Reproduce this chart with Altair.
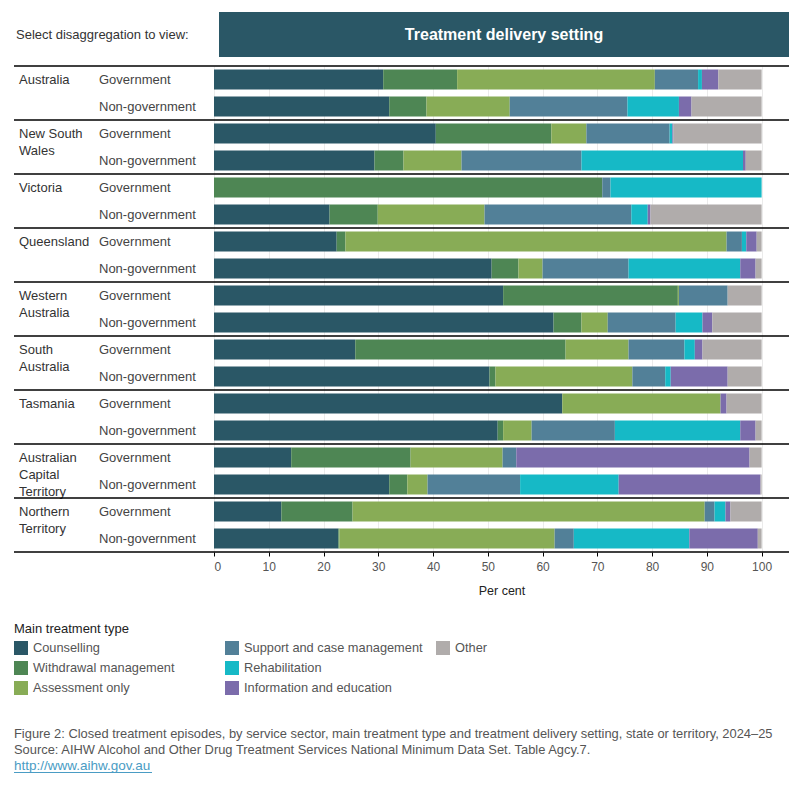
import altair as alt
import pandas as pd

# ---- categories -------------------------------------------------------------
states = [
    "Australia", "New South Wales", "Victoria", "Queensland", "Western Australia",
    "South Australia", "Tasmania", "Australian Capital Territory", "Northern Territory",
]
state_labels = [
    "Australia", "New South\nWales", "Victoria", "Queensland", "Western\nAustralia",
    "South\nAustralia", "Tasmania", "Australian\nCapital\nTerritory", "Northern\nTerritory",
]
sectors = ["Government", "Non-government"]
types = [
    "Counselling", "Withdrawal management", "Assessment only",
    "Support and case management", "Rehabilitation", "Information and education", "Other",
]
type_colors = ["#2a5766", "#4e8654", "#88ac56", "#528098", "#16b9c6", "#7b6cab", "#b0acab"]

# ---- per cent of closed episodes; rows: each state's Government then Non-government
counselling = [30.9, 32.0, 40.5, 29.3, 0.0, 21.1, 22.4, 50.7, 52.8,
               62.0, 25.8, 50.3, 63.6, 51.8, 14.1, 32.0, 12.3, 22.7]
withdrawal = [13.5, 6.8, 21.1, 5.3, 70.9, 8.8, 1.6, 4.9, 31.9,
              5.1, 38.4, 1.1, 0.0, 1.0, 21.8, 3.3, 13.0, 0.2]
assessment = [36.1, 15.2, 6.4, 10.6, 0.0, 19.5, 69.6, 4.4, 0.2,
              4.8, 11.5, 25.0, 28.9, 5.2, 16.8, 3.7, 64.3, 39.3]
support = [7.9, 21.5, 15.2, 21.9, 1.5, 26.8, 2.8, 15.7, 8.9,
           12.4, 10.2, 6.0, 0.0, 15.2, 2.5, 16.9, 1.8, 3.5]
rehabilitation = [0.7, 9.4, 0.5, 29.5, 27.6, 3.0, 0.8, 20.4, 0.0,
                  4.9, 1.9, 1.0, 0.0, 22.9, 0.0, 18.0, 2.0, 21.1]
information = [3.0, 2.3, 0.2, 0.5, 0.0, 0.5, 1.9, 2.8, 0.0,
               1.8, 1.4, 10.4, 1.1, 2.8, 42.6, 25.9, 0.9, 12.5]
other = [7.9, 12.8, 16.1, 2.9, 0.0, 20.3, 0.9, 1.1, 6.2,
         9.0, 10.8, 6.2, 6.4, 1.1, 2.2, 0.2, 5.7, 0.7]
series = [counselling, withdrawal, assessment, support, rehabilitation, information, other]

x_ticks = list(range(0, 101, 10))

header_text = "Treatment delivery setting"
selector_text = "Select disaggregation to view:"
caption_line1 = ("Figure 2: Closed treatment episodes, by service sector, main treatment type "
                 "and treatment delivery setting, state or territory, 2024\u201325")
caption_line2 = "Source: AIHW Alcohol and Other Drug Treatment Services National Minimum Data Set. Table Agcy.7."
caption_link = "http://www.aihw.gov.au"

# ---- tables -------------------------------------------------------------------
row_states = [s for s in states for _ in sectors]
row_sectors = [sec for _ in states for sec in sectors]
keys = [f"{s}|{sec}" for s, sec in zip(row_states, row_sectors)]

long_rows = []
for rank, (t, vals) in enumerate(zip(types, series)):
    for k, s, sec, v in zip(keys, row_states, row_sectors, vals):
        long_rows.append({"key": k, "state": s, "sector": sec, "type": t, "rank": rank, "value": v})
bars_df = pd.DataFrame(long_rows)

rows_df = pd.DataFrame({"key": keys, "sector": row_sectors})
states_df = pd.DataFrame({"key": [f"{s}|{sectors[0]}" for s in states], "label": state_labels})
last_df = pd.DataFrame({"key": [keys[-1]]})

# two empty slots fill the 3 x 3 legend grid so the entries run down each column
legend_domain = types + [" ", "  "]
legend_range = type_colors + ["transparent", "transparent"]

FONT = "Liberation Sans"
W = 575
y_scale = alt.Scale(domain=keys, paddingInner=0, paddingOuter=0)

bars = alt.Chart(bars_df).mark_bar(size=20).encode(
    x=alt.X(
        "value:Q", stack="zero",
        scale=alt.Scale(domain=[0, 105], nice=False),
        axis=alt.Axis(
            values=x_ticks, title="Per cent", grid=True, gridColor="#ebebeb", gridWidth=1,
            domain=False, ticks=True, tickColor="#000", tickSize=4, tickWidth=1,
            labelFontSize=12, labelColor="#555", labelPadding=5,
            titleFontSize=12.5, titleFontWeight="normal", titleColor="#222", titlePadding=12,
        ),
    ),
    y=alt.Y(
        "key:N", scale=y_scale,
        axis=alt.Axis(domain=True, domainColor="#000", domainWidth=1.5, labels=False,
                      ticks=False, title=None, grid=False),
    ),
    color=alt.Color(
        "type:N",
        scale=alt.Scale(domain=legend_domain, range=legend_range),
        legend=alt.Legend(
            title="Main treatment type", orient="none", legendX=-200, legendY=557,
            columns=3, gridAlign="all", columnPadding=13, rowPadding=6,
            symbolType="square", symbolSize=196, symbolStrokeWidth=0, labelOffset=5,
            labelFontSize=12.8, labelColor="#555", labelLimit=260,
            titleFontSize=13, titleColor="#222", titleFontWeight="normal", titlePadding=5,
            padding=0,
        ),
    ),
    order=alt.Order("rank:Q"),
)

sector_text = alt.Chart(rows_df).mark_text(
    align="left", baseline="alphabetic", dy=4.5, fontSize=13, color="#444"
).encode(
    x=alt.value(-115),
    y=alt.Y("key:N", scale=y_scale, axis=None),
    text="sector:N",
)

state_text = alt.Chart(states_df).mark_text(
    align="left", baseline="alphabetic", dy=4.5, fontSize=13, color="#333",
    lineBreak="\n", lineHeight=17,
).encode(
    x=alt.value(-195),
    y=alt.Y("key:N", scale=y_scale, axis=None),
    text="label:N",
)

separators = alt.Chart(states_df).mark_rule(color="#000", strokeWidth=1.5).encode(
    y=alt.Y("key:N", scale=y_scale, axis=None, bandPosition=0),
    x=alt.value(-200), x2=alt.value(W),
)

bottom_rule = alt.Chart(last_df).mark_rule(color="#000", strokeWidth=1.5).encode(
    y=alt.Y("key:N", scale=y_scale, axis=None, bandPosition=1),
    x=alt.value(-200), x2=alt.value(W),
)

one = alt.Data(values=[{}])

header_box = alt.Chart(one).mark_rect(color="#2a5766").encode(
    x=alt.value(5), x2=alt.value(W), y=alt.value(-54), y2=alt.value(-9),
)
header_label = alt.Chart(one).mark_text(
    text=header_text, fontSize=16, fontWeight="bold", color="#ffffff",
    align="center", baseline="middle",
).encode(x=alt.value(290), y=alt.value(-31))

selector_label = alt.Chart(one).mark_text(
    text=selector_text, fontSize=13, color="#333", align="left", baseline="middle",
).encode(x=alt.value(-198), y=alt.value(-31))

cap1 = alt.Chart(one).mark_text(
    text=caption_line1, fontSize=12.9, color="#555", align="left", baseline="middle",
).encode(x=alt.value(-200), y=alt.value(668))
cap2 = alt.Chart(one).mark_text(
    text=caption_line2, fontSize=12.9, color="#555", align="left", baseline="middle",
).encode(x=alt.value(-200), y=alt.value(683.5))
link = alt.Chart(one).mark_text(
    text=caption_link, fontSize=13.5, color="#4a9cc4", align="left", baseline="middle",
).encode(x=alt.value(-200), y=alt.value(700))
link_line = alt.Chart(one).mark_rule(color="#4a9cc4", strokeWidth=1).encode(
    x=alt.value(-200), x2=alt.value(-62), y=alt.value(706.5),
)

chart = alt.layer(
    bars, sector_text, state_text, separators, bottom_rule,
    header_box, header_label, selector_label, cap1, cap2, link, link_line,
).properties(
    width=W, height=486,
    padding={"left": 13, "top": 12, "right": 10, "bottom": 10},
).configure(font=FONT).configure_view(strokeWidth=0)

chart.save("out.html", embed_options={"renderer": "svg", "actions": False})
